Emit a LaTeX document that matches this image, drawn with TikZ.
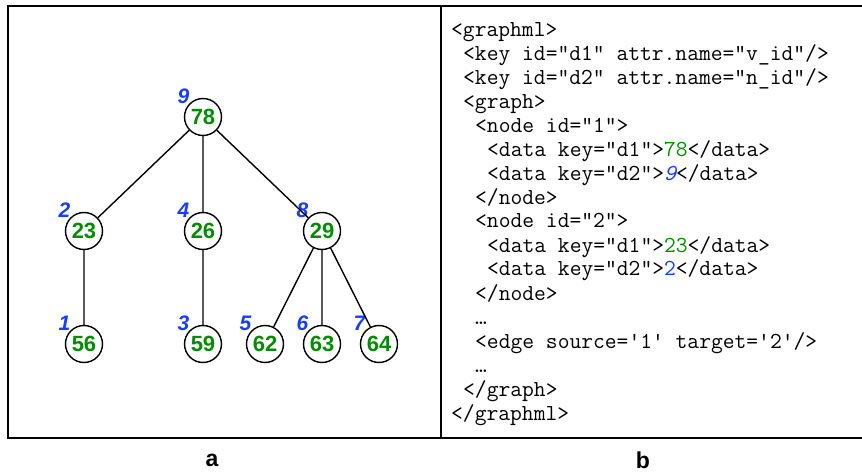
\documentclass[tikz,border=0pt]{standalone}
\usepackage{fontspec}
\setmainfont{Liberation Sans}
\definecolor{vgreen}{RGB}{0,140,0}
\definecolor{nblue}{RGB}{25,60,255}

\begin{document}
\begin{tikzpicture}[x=1pt,y=-1pt,
    vert/.style={circle,draw,line width=1.4pt,minimum size=37pt,inner sep=0pt,
      font=\fontsize{22}{22}\selectfont\bfseries,text=vgreen},
    num/.style={font=\fontsize{21}{21}\selectfont\bfseries\itshape,text=nblue,inner sep=0pt},
    every label/.style={num},
    code/.style={anchor=base west,inner sep=0pt,font=\ttfamily\fontsize{22.9}{24}\selectfont},
    capt/.style={font=\fontsize{23}{23}\selectfont\bfseries}]
  \useasboundingbox (0,0) rectangle (862,473);
  \draw[line width=2pt] (862,6) -- (8,6) -- (8,438) -- (862,438);
  \draw[line width=2pt] (441,6) -- (441,438);

  % tree (a)
  \node[vert,label=135:9] (n78) at (203,117) {78};
  \node[vert,label=135:2] (n23) at (84,231) {23};
  \node[vert,label=135:4] (n26) at (203,231) {26};
  \node[vert,label=135:8] (n29) at (322,231) {29};
  \node[vert,label=135:1] (n56) at (84,344) {56};
  \node[vert,label=135:3] (n59) at (203,344) {59};
  \node[vert,label=135:5] (n62) at (265,344) {62};
  \node[vert,label=135:6] (n63) at (322,344) {63};
  \node[vert,label=135:7] (n64) at (379,344) {64};
  \draw[line width=1.4pt] (n78) -- (n23) (n78) -- (n26) (n78) -- (n29)
    (n23) -- (n56) (n26) -- (n59)
    (n29) -- (n62) (n29) -- (n63) (n29) -- (n64);

  % graphml listing (b)
  \node[code] (l1) at (451,37) {<graphml>};
  \node[code] (l2) at (463,61) {<key id="d1" attr.name="v\_id"/>};
  \node[code] (l3) at (463,85) {<key id="d2" attr.name="n\_id"/>};
  \node[code] (l4) at (463,109) {<graph>};
  \node[code] (l5) at (475,133) {<node id="1">};
  \node[code] (l6) at (487,157) {<data key="d1">\textcolor{vgreen}{78}</data>};
  \node[code] (l7) at (487,181) {<data key="d2">\textcolor{nblue}{\itshape 9}</data>};
  \node[code] (l8) at (475,205) {</node>};
  \node[code] (l9) at (475,228) {<node id="2">};
  \node[code] (l10) at (487,252) {<data key="d1">\textcolor{vgreen}{23}</data>};
  \node[code] (l11) at (487,276) {<data key="d2">\textcolor{nblue}{2}</data>};
  \node[code] (l12) at (475,300) {</node>};
  \node[code] (l13) at (475,324) {…};
  \node[code] (l14) at (475,348) {<edge source='1' target='2'/>};
  \node[code] (l15) at (475,372) {…};
  \node[code] (l16) at (463,396) {</graph>};
  \node[code] (l17) at (451,420) {</graphml>};

  % captions
  \node[capt] (capa) at (212,460) {a};
  \node[capt] (capb) at (643,460) {b};
\end{tikzpicture}
\end{document}
